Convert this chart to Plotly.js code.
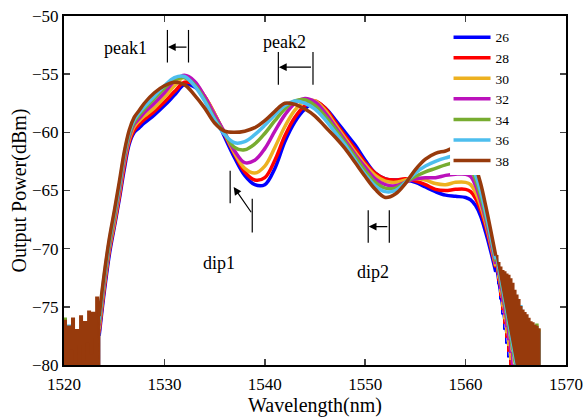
<!DOCTYPE html>
<html><head><meta charset="utf-8">
<script src="https://cdn.plot.ly/plotly-3.0.1.min.js"></script>
<style>html,body{margin:0;padding:0;background:#fff}#chart{width:585px;height:419px}</style>
</head><body><div id="chart"></div>
<script>
// ---- data ----
const seriesNames = ['26','28','30','32','34','36','38'];
const seriesColors = ['#0000ff','#ff0000','#EDB120','#BB11BB','#77AC30','#4DBEEE','#973a0c'];

const mainX = [1523.5,1524,1524.5,1525,1525.5,1526,1526.5,1527,1527.5,
  1528,1529,1530,1531,1532,1533,1534,1535,1536,1537,1538,1539,1540,1541,1542,1543,1544,1545,1546,1547,1548,1549,1550,1551,1552,1553,1554,1555,1556,1557,1558,1559,1560,
  1560.5,1561,1561.5,1562,1562.5,1563];

const p26 = [-77.5,-73.8,-70.6,-68.2,-65.8,-63.2,-61.0,-60.0,-59.6,
  -59.2,-58.5,-57.7,-56.8,-55.9,-56.1,-57.0,-58.5,-60.4,-62.2,-63.7,-64.5,-64.5,-63.1,-60.8,-59.1,-58.0,-57.4,-57.9,-58.9,-60.0,-61.1,-62.4,-63.5,-64.0,-64.1,-64.1,-64.3,-64.7,-65.1,-65.4,-65.5,-65.6,
  -65.8,-66.3,-67.2,-68.6,-70.2,-72.0];
const p28 = [-77.2,-73.5,-70.3,-68.0,-65.6,-62.9,-60.8,-59.8,-59.3,
  -58.9,-58.2,-57.4,-56.5,-55.7,-55.9,-56.9,-58.4,-60.2,-61.9,-63.4,-64.1,-63.9,-62.4,-60.3,-58.7,-57.7,-57.3,-57.9,-59.1,-60.3,-61.4,-62.6,-63.5,-64.0,-64.1,-64.0,-64.2,-64.5,-64.9,-65.0,-64.9,-64.9,
  -65.1,-65.7,-66.7,-68.1,-69.8,-71.6];
const p30 = [-76.9,-73.2,-70.1,-67.8,-65.3,-62.6,-60.6,-59.5,-59.0,
  -58.6,-57.9,-57.0,-56.0,-55.2,-55.7,-56.9,-58.4,-60.1,-61.8,-63.1,-63.5,-62.9,-61.3,-59.5,-58.1,-57.3,-57.3,-58.1,-59.3,-60.5,-61.7,-62.8,-63.7,-64.2,-64.3,-64.1,-64.0,-64.1,-64.4,-64.5,-64.3,-64.3,
  -64.5,-65.2,-66.3,-67.8,-69.6,-71.5];
const p32 = [-76.6,-72.9,-69.9,-67.5,-65.1,-62.4,-60.4,-59.3,-58.8,
  -58.3,-57.5,-56.6,-55.6,-55.1,-55.6,-56.9,-58.5,-60.0,-61.6,-62.6,-62.4,-61.4,-59.9,-58.5,-57.5,-57.1,-57.4,-58.3,-59.5,-60.7,-61.9,-63.0,-64.0,-64.5,-64.6,-64.3,-64.0,-63.9,-63.9,-63.7,-63.6,-63.6,
  -63.8,-64.6,-65.9,-67.5,-69.4,-71.3];
const p34 = [-76.4,-72.7,-69.7,-67.3,-64.8,-62.1,-60.2,-59.1,-58.5,
  -58.0,-57.1,-56.2,-55.5,-55.3,-55.9,-57.2,-58.8,-60.1,-61.3,-61.5,-61.0,-60.1,-59.0,-58.0,-57.3,-57.2,-57.7,-58.6,-59.7,-60.9,-62.1,-63.3,-64.3,-64.8,-64.8,-64.3,-63.8,-63.4,-63.1,-62.8,-62.6,-62.7,
  -63.1,-64.1,-65.5,-67.2,-69.1,-71.1];
const p36 = [-76.1,-72.4,-69.4,-67.0,-64.6,-61.9,-60.0,-58.9,-58.3,
  -57.8,-56.9,-56.0,-55.3,-55.2,-56.0,-57.3,-58.9,-60.2,-60.9,-60.8,-60.2,-59.4,-58.5,-57.7,-57.3,-57.5,-58.0,-58.9,-60.0,-61.1,-62.4,-63.6,-64.6,-65.1,-65.0,-64.3,-63.5,-62.9,-62.5,-62.2,-62.0,-62.2,
  -62.7,-63.7,-65.1,-66.9,-68.9,-70.9];
const p38 = [-75.8,-72.2,-69.2,-66.8,-64.3,-61.7,-59.8,-58.7,-58.1,
  -57.5,-56.6,-56.0,-55.7,-55.9,-56.8,-57.9,-59.2,-59.9,-60.0,-59.9,-59.6,-59.0,-58.2,-57.5,-57.6,-58.0,-58.6,-59.5,-60.4,-61.4,-62.6,-63.8,-64.9,-65.6,-65.3,-64.4,-63.2,-62.3,-61.8,-61.6,-61.3,-61.5,
  -62.0,-63.0,-64.4,-66.3,-68.4,-70.6];

// noisy low-power tails (upper envelope of the noise band)
const tailLX = [1520.0,1520.2,1520.4,1520.6,1520.8,1521.0,1521.2,1521.4,1521.6,1521.8,1522.0,1522.2,1522.4,1522.6,1522.8,1523.0,1523.2,1523.4];
const tailL26 = [-85,-84,-86,-85,-84,-86,-85,-84,-86,-85,-84,-86,-85,-84,-83,-80.5,-82,-78.5];
const tailL28 = [-85,-84,-86,-85,-84,-86,-85,-84,-86,-85,-84,-86,-85,-83,-81,-79.5,-81.5,-78.2];
const tailL30 = [-85,-84,-86,-85,-84,-86,-85,-84,-86,-85,-84,-83,-81,-82,-79.6,-81,-78.6,-77.8];
const tailL32 = [-85,-84,-86,-85,-84,-86,-85,-84,-86,-84,-82,-83,-80.5,-81.5,-78.2,-80.2,-77.2,-77.5];
const tailL34 = [-76.0,-79.5,-76.8,-81,-78.2,-80.5,-77.5,-81,-79.0,-80.5,-77.9,-81,-78.8,-80.0,-77.4,-79.6,-76.9,-77.2];
const tailL36 = [-77.0,-80.8,-76.6,-80.0,-78.8,-81,-77.2,-80.5,-78.5,-81,-78.2,-80.6,-77.7,-80.4,-77.0,-79.8,-76.2,-76.8];
const tailL38 = [-76.2,-79.4,-76.7,-78.6,-76.0,-79.8,-77.0,-78.2,-75.8,-79.6,-76.3,-78.0,-75.4,-79.0,-75.5,-77.6,-74.2,-75.4];

const tailRX = [1563.2,1563.4,1563.6,1563.8,1564.0,1564.2,1564.4,1564.6,1564.8,1565.0,1565.2,1565.4,1565.6,1565.8,1566.0,1566.2,1566.4,1566.6,1566.8,1567.0,1567.2,1567.4];
const tailR26 = [-73.0,-74.3,-75.6,-76.9,-78.1,-79.3,-80.4,-81,-81,-81,-81,-81,-81,-81,-81,-81,-81,-81,-81,-81,-81,-81];
const tailR28 = [-72.7,-74.0,-75.2,-76.4,-77.6,-78.8,-80.0,-81,-81,-81,-81,-81,-81,-81,-81,-81,-81,-81,-81,-81,-81,-81];
const tailR30 = [-72.5,-73.7,-74.9,-76.0,-77.2,-78.3,-79.5,-80.6,-81,-81,-81,-81,-81,-81,-81,-81,-81,-81,-81,-81,-81,-81];
const tailR32 = [-72.2,-73.4,-74.5,-75.6,-76.7,-77.8,-78.9,-80.0,-81,-81,-81,-81,-81,-81,-81,-81,-81,-81,-81,-81,-81,-81];
const tailR34 = [-71.8,-72.4,-73.0,-73.5,-74.0,-74.4,-74.8,-75.2,-75.6,-75.9,-76.2,-76.4,-76.6,-76.8,-76.9,-77.0,-76.8,-76.6,-76.8,-76.5,-77.0,-81];
const tailR36 = [-71.6,-72.2,-72.6,-73.0,-73.4,-73.8,-74.2,-74.6,-74.8,-75.0,-75.2,-74.9,-75.6,-75.8,-76.2,-76.4,-76.6,-76.9,-76.7,-77.0,-77.2,-81];
const tailR38 = [-71.2,-71.6,-71.9,-72.0,-72.2,-72.3,-72.6,-73.0,-73.6,-74.0,-74.4,-75.0,-75.3,-75.5,-75.7,-76.0,-76.3,-76.4,-76.6,-76.7,-76.9,-81];
// wavelength where each signal's falling edge reaches the noise floor
const floorReachR = [1564.6,1564.7,1564.8,1564.9,1565.0,1565.1,1565.2];

const noiseFloor = -81;

const mains = [p26,p28,p30,p32,p34,p36,p38];
const tailsL = [tailL26,tailL28,tailL30,tailL32,tailL34,tailL36,tailL38];
const tailsR = [tailR26,tailR28,tailR30,tailR32,tailR34,tailR36,tailR38];

const xTicks = [1520,1530,1540,1550,1560,1570];
const yTicks = [-80,-75,-70,-65,-60,-55,-50];

// ---- traces ----
const traces = [];
const LW = 3.5;
for (let i = 0; i < seriesNames.length; i++) {
  const c = seriesColors[i];
  const m = mains[i];
  const tl = tailsL[i], tr = tailsR[i];
  const lx = tailLX.concat([mainX[0]]);
  const ly = tl.concat([m[0]]);
  const rx = [mainX[mainX.length-1]].concat(tailRX);
  const ry = [m[m.length-1]].concat(tr);
  // closed noise bands down to the floor
  traces.push({x: [lx[0]].concat(lx, [lx[lx.length-1]]), y: [noiseFloor].concat(ly, [noiseFloor]), mode:'lines', line:{color:c,width:2,shape:'hv'}, fill:'toself', fillcolor:c, showlegend:false, hoverinfo:'skip'});
  traces.push({x: rx.concat([rx[rx.length-1], floorReachR[i]]), y: ry.concat([noiseFloor, noiseFloor]), mode:'lines', line:{color:c,width:1.5,shape:'hv'}, fill:'toself', fillcolor:c, showlegend:false, hoverinfo:'skip'});
  traces.push({x: mainX, y: m, name: seriesNames[i], mode:'lines', line:{color:c,width:LW,shape:'spline',smoothing:1}});
}

const serif = 'Liberation Serif, Times New Roman, serif';
function bar(x, y0, y1){ return {type:'line', xref:'x', yref:'y', x0:x, x1:x, y0:y0, y1:y1, line:{color:'black', width:1.2}}; }
function arrow(x, y, ax, ay){ return {x:x, y:y, ax:ax, ay:ay, xref:'x', yref:'y', axref:'x', ayref:'y', text:'', showarrow:true, arrowhead:2, arrowsize:1.3, arrowwidth:1.2, arrowcolor:'black'}; }
function label(x, y, t){ return {x:x, y:y, xref:'x', yref:'y', text:t, showarrow:false, font:{family:serif, size:18, color:'black'}}; }

const layout = {
  width:585, height:419,
  margin:{l:64, r:19, t:16, b:54},
  paper_bgcolor:'white', plot_bgcolor:'white',
  font:{family:serif, color:'black', size:17},
  xaxis:{range:[1520,1570], tickvals:xTicks, ticks:'inside', ticklen:6, tickwidth:1.5, mirror:'ticks', showline:true, linewidth:2, linecolor:'black', showgrid:false, zeroline:false,
    tickfont:{family:serif, size:17}, ticklabelstandoff:3, title:{text:'Wavelength(nm)', font:{family:serif, size:20}, standoff:0}},
  yaxis:{range:[-80,-50], tickvals:yTicks, ticks:'inside', ticklen:6, tickwidth:1.5, mirror:'ticks', showline:true, linewidth:2, linecolor:'black', showgrid:false, zeroline:false,
    tickfont:{family:serif, size:17}, title:{text:'Output Power(dBm)', font:{family:serif, size:20}, standoff:0}},
  legend:{x:0.766, y:0.983, xanchor:'left', yanchor:'top', bgcolor:'rgba(0,0,0,0)', borderwidth:0, itemwidth:37, tracegroupgap:0,
    font:{family:serif, size:13.5, color:'black'}},
  shapes:[
    {type:'rect', xref:'paper', yref:'paper', x0:0.769, x1:0.92, y0:0.5444, y1:0.974, layer:'above', fillcolor:'white', line:{width:0}},
    bar(1530.3,-51.2,-54.0), bar(1532.4,-51.2,-54.0),
    bar(1541.35,-53.1,-55.9), bar(1544.8,-53.1,-55.9),
    bar(1536.55,-63.3,-66.1), bar(1538.75,-65.7,-68.6),
    bar(1550.3,-66.7,-69.5), bar(1552.4,-66.7,-69.5)
  ],
  annotations:[
    label(1526.1,-52.75,'peak1'), label(1542.0,-52.24,'peak2'),
    label(1535.45,-71.2,'dip1'), label(1550.8,-72.0,'dip2'),
    arrow(1530.35,-52.67,1532.35,-52.67),
    arrow(1541.4,-54.4,1544.75,-54.4),
    arrow(1536.9,-64.7,1538.75,-67.0),
    arrow(1550.35,-68.1,1552.35,-68.1)
  ]
};

Plotly.newPlot('chart', traces, layout, {staticPlot:true, displayModeBar:false});
</script>
</body></html>
